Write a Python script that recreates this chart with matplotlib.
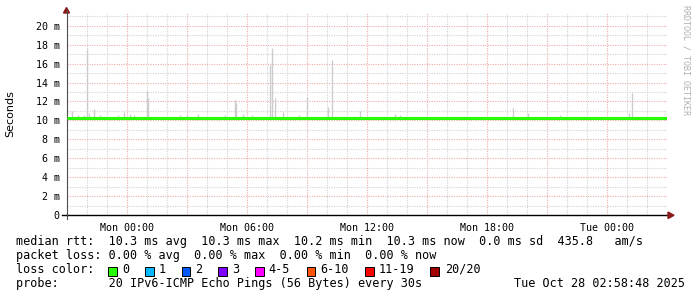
import matplotlib
matplotlib.use("Agg")
import matplotlib.pyplot as plt
import matplotlib.dates as mdates
from matplotlib.ticker import MultipleLocator, FuncFormatter
from matplotlib.patches import Polygon, Rectangle
import pandas as pd

# ---------------- data ----------------
start = pd.Timestamp("2025-10-26 20:58:48")
end = pd.Timestamp("2025-10-28 02:58:48")

# median rtt (ms) every 30 minutes from Sun 21:00 to Tue 03:00
median_times = pd.date_range("2025-10-26 21:00", "2025-10-28 03:00", freq="30min")
median_ms = [10.3, 10.3, 10.25, 10.3, 10.3, 10.3, 10.25, 10.3, 10.3, 10.3,
             10.3, 10.3, 10.3, 10.25, 10.3, 10.3, 10.3, 10.3, 10.3, 10.3,
             10.3, 10.3, 10.3, 10.3, 10.3, 10.25, 10.3, 10.3, 10.3, 10.3,
             10.25, 10.3, 10.3, 10.3, 10.3, 10.25, 10.3, 10.3, 10.3, 10.3,
             10.3, 10.25, 10.3, 10.3, 10.3, 10.3, 10.3, 10.3, 10.25, 10.3,
             10.3, 10.3, 10.3, 10.3, 10.3, 10.25, 10.3, 10.3, 10.3, 10.3,
             10.3]

# smoke peaks (max ping rtt, ms)
spike_times = ["2025-10-26 21:16", "2025-10-26 21:34", "2025-10-26 21:52",
               "2025-10-26 22:00", "2025-10-26 22:07", "2025-10-26 22:22",
               "2025-10-26 22:40", "2025-10-26 23:34", "2025-10-26 23:52",
               "2025-10-27 00:10", "2025-10-27 00:22", "2025-10-27 01:00",
               "2025-10-27 01:03", "2025-10-27 02:40", "2025-10-27 03:01",
               "2025-10-27 03:34", "2025-10-27 04:55", "2025-10-27 05:23",
               "2025-10-27 05:28", "2025-10-27 05:49", "2025-10-27 06:16",
               "2025-10-27 07:10", "2025-10-27 07:15", "2025-10-27 07:23",
               "2025-10-27 07:49", "2025-10-27 08:37", "2025-10-27 09:00",
               "2025-10-27 10:04", "2025-10-27 10:15", "2025-10-27 11:40",
               "2025-10-27 13:25", "2025-10-27 13:40", "2025-10-27 19:19",
               "2025-10-27 20:04", "2025-10-27 21:40", "2025-10-28 01:07",
               "2025-10-28 01:15"]
spike_ms = [11.0, 10.6, 10.6, 17.5, 10.8, 11.2, 10.6, 10.6, 10.9, 10.7,
            10.6, 13.1, 12.4, 10.6, 10.6, 10.7, 10.6, 12.2, 11.8, 10.7,
            10.6, 15.9, 17.6, 12.4, 10.9, 10.6, 12.5, 11.4, 16.4, 11.0,
            10.7, 10.6, 11.3, 10.8, 10.6, 10.8, 12.9]

loss_labels = ["0", "1", "2", "3", "4-5", "6-10", "11-19", "20/20"]
loss_colors = ["#26ff00", "#00b8ff", "#0059ff", "#7e00ff", "#ff00ff",
               "#ff5500", "#ff0000", "#a00000"]

legend_lines = [
    "median rtt:  10.3 ms avg  10.3 ms max  10.2 ms min  10.3 ms now  0.0 ms sd  435.8   am/s",
    "packet loss: 0.00 % avg  0.00 % max  0.00 % min  0.00 % now",
]
probe_text = "probe:       20 IPv6-ICMP Echo Pings (56 Bytes) every 30s"
date_text = "Tue Oct 28 02:58:48 2025"

# ---------------- figure ----------------
W, H = 697, 297
fig = plt.figure(figsize=(W / 100, H / 100), dpi=100)
fig.patch.set_facecolor("white")

def fx(x):
    return x / W

def fy(y):
    return 1 - y / H

ax_l, ax_r, ax_t, ax_b = 66.5, 666.5, 13.3, 215.3
ax = fig.add_axes([fx(ax_l), fy(ax_b), (ax_r - ax_l) / W, (ax_b - ax_t) / H])
ax.set_facecolor("white")
ax.set_xlim(start, end)
ax.set_ylim(0, 21.3)

mono = "DejaVu Sans Mono"

# grid
ax.yaxis.set_major_locator(MultipleLocator(2))
ax.yaxis.set_minor_locator(MultipleLocator(1))
ax.xaxis.set_major_locator(mdates.HourLocator(byhour=range(0, 24, 3)))
ax.xaxis.set_minor_locator(mdates.HourLocator())
ax.grid(which="major", color="#eeaaaa", linestyle=(0, (1, 1.2)), linewidth=0.8)
ax.grid(which="minor", color="#d2d2d2", linestyle=(0, (1, 1.2)), linewidth=0.8)
ax.set_axisbelow(True)

def xfmt(v, pos):
    d = mdates.num2date(v)
    if d.hour % 6 == 0 and d.minute == 0:
        return d.strftime("%a %H:%M")
    return ""

def yfmt(v, pos):
    if abs(v) < 1e-9:
        return "0"
    return f"{v:g} m"

ax.xaxis.set_major_formatter(FuncFormatter(xfmt))
ax.yaxis.set_major_formatter(FuncFormatter(yfmt))
ax.tick_params(which="both", length=0)
ax.tick_params(axis="x", pad=5.5, labelsize=7.2, colors="black")
ax.tick_params(axis="y", pad=5, labelsize=7.2, colors="black")
for lab in ax.get_xticklabels() + ax.get_yticklabels():
    lab.set_fontfamily(mono)

for s in ["top", "right"]:
    ax.spines[s].set_visible(False)
ax.spines["left"].set_color("#505050")
ax.spines["left"].set_linewidth(0.8)
ax.spines["bottom"].set_color("black")
ax.spines["bottom"].set_linewidth(1.0)

# smoke
sp_t = pd.to_datetime(spike_times)
ax.vlines(sp_t, 10.3, spike_ms, colors="#cccccc", linewidth=1.0, zorder=2)

# median line
ax.plot(median_times, median_ms, color=loss_colors[0], linewidth=2.2,
        drawstyle="steps-post", zorder=3, solid_capstyle="butt")

# axis extensions and arrows (figure pixel coordinates)
fig.add_artist(plt.Line2D([fx(62), fx(ax_l)], [fy(ax_b), fy(ax_b)], color="black", lw=1.0))
fig.add_artist(plt.Line2D([fx(ax_l), fx(ax_l)], [fy(ax_b), fy(219)], color="#505050", lw=0.8))
fig.add_artist(plt.Line2D([fx(ax_l), fx(ax_l)], [fy(ax_t), fy(10)], color="#505050", lw=0.8))
arrow_c = "#8b1a1a"
fig.add_artist(Polygon([[fx(63.5), fy(13)], [fx(69.5), fy(13)], [fx(66.5), fy(7.5)]],
                       closed=True, color=arrow_c, transform=fig.transFigure))
fig.add_artist(Polygon([[fx(668), fy(212)], [fx(668), fy(218.5)], [fx(674), fy(215.3)]],
                       closed=True, color=arrow_c, transform=fig.transFigure))

# y label
fig.text(fx(10), fy(113.5), "Seconds", rotation=90, ha="center", va="center",
         fontsize=8, family="DejaVu Sans", color="black")

# watermark
fig.text(fx(686), fy(5), "RRDTOOL / TOBI OETIKER", rotation=270, ha="center", va="top",
         fontsize=6.0, family=mono, color="#b0b0b0")

# legend text
fs = 8.5
fig.text(fx(16.5), fy(245), legend_lines[0], ha="left", va="baseline",
         fontsize=fs, family=mono, color="black")
fig.text(fx(16.5), fy(259), legend_lines[1], ha="left", va="baseline",
         fontsize=fs, family=mono, color="black")
fig.text(fx(16.5), fy(273), "loss color:", ha="left", va="baseline",
         fontsize=fs, family=mono, color="black")
box_x = [108.3, 145, 181.7, 218.3, 255, 306.7, 365, 430]
lab_x = [122.5, 158.5, 195.0, 231.7, 268.5, 320.7, 379.0, 445.5]
for bx, lx, lab, col in zip(box_x, lab_x, loss_labels, loss_colors):
    fig.add_artist(Rectangle((fx(bx), fy(275.5)), 8.5 / W, 8.5 / H,
                             facecolor=col, edgecolor="black", linewidth=0.7,
                             transform=fig.transFigure))
    fig.text(fx(lx), fy(273), lab, ha="left", va="baseline",
             fontsize=fs, family=mono, color="black")
fig.text(fx(16.5), fy(287), probe_text, ha="left", va="baseline",
         fontsize=fs, family=mono, color="black")
fig.text(fx(684.5), fy(287), date_text, ha="right", va="baseline",
         fontsize=fs, family=mono, color="black")

fig.savefig("out.png", dpi=100, facecolor="white")
